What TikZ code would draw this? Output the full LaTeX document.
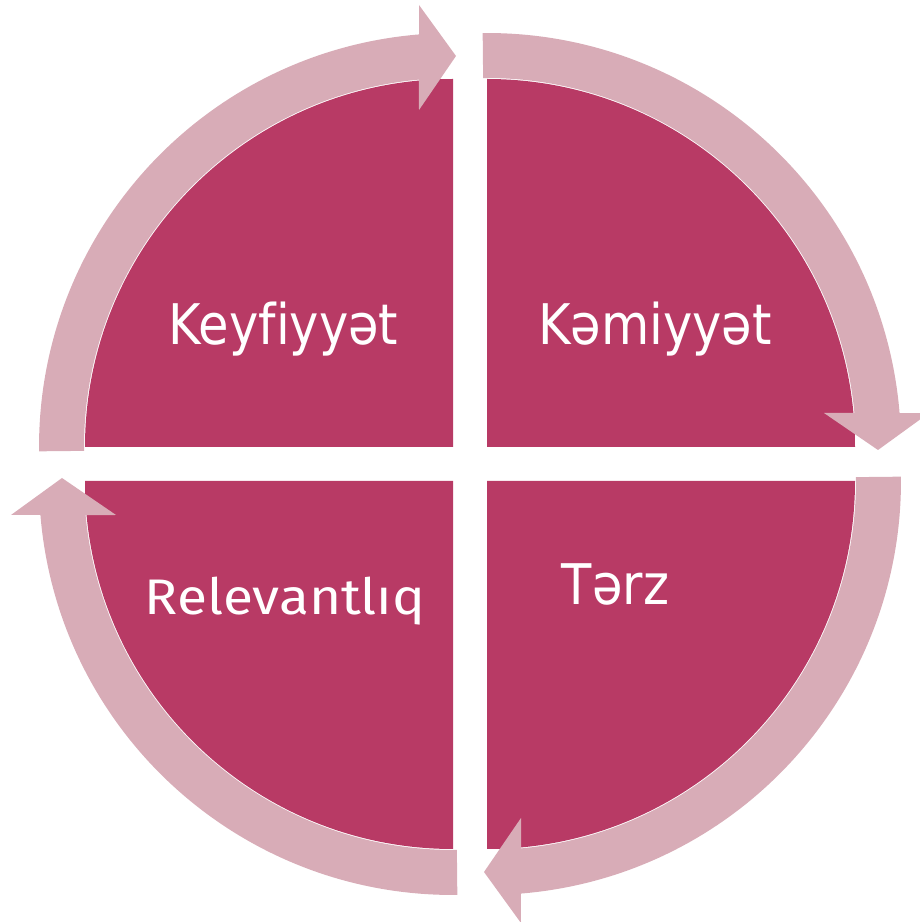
\documentclass[tikz,border=0pt]{standalone}
\usepackage{fontspec}
\setmainfont[Ligatures=NoCommon]{DejaVu Sans}
\newfontfamily\relfont{Fira Sans}
\definecolor{sectorcol}{RGB}{184,58,101}
\definecolor{ringcol}{RGB}{216,172,183}
\tikzset{
  sectorfill/.style={fill=sectorcol, draw=none},
  ringarrow/.style={fill=ringcol, draw=none},
  lbl/.style={text=white, anchor=base, inner sep=0pt, font=\fontsize{56}{60}\selectfont},
}
\newcommand{\ringpath}{%
  (180.6:414) arc[start angle=180.6, end angle=94.7, radius=414] -- (-34,442) -- (3,391) -- (-34,337) -- (95.3:369) arc[start angle=95.3, end angle=180.6, radius=369] -- cycle}
\begin{document}
\begin{tikzpicture}[x=1pt,y=1pt]
\useasboundingbox (0,0) rectangle (920,922);
% corners
\coordinate (cTL) at (453,475);
\coordinate (cTR) at (487,475);
\coordinate (cBR) at (487,441);
\coordinate (cBL) at (453,441);
% sectors
\fill[sectorfill] (cTL) -- ++(180:368) arc[start angle=180, end angle=90, radius=368] -- cycle;
\fill[sectorfill] (cTR) -- ++(90:368) arc[start angle=90, end angle=0, radius=368] -- cycle;
\fill[sectorfill] (cBR) -- ++(0:368) arc[start angle=0, end angle=-90, radius=368] -- cycle;
\fill[sectorfill] (cBL) -- ++(270:368) arc[start angle=270, end angle=180, radius=368] -- cycle;
% ring arrows
\begin{scope}[shift={(cTL)}]
  \fill[ringarrow] \ringpath;
\end{scope}
\begin{scope}[shift={(cTR)}, rotate=-90]
  \fill[ringarrow] \ringpath;
\end{scope}
\begin{scope}[shift={(cBR)}, rotate=-180]
  \fill[ringarrow] \ringpath;
\end{scope}
\begin{scope}[shift={(cBL)}, rotate=90]
  \fill[ringarrow] \ringpath;
\end{scope}
% labels
\node[lbl] (keyf) at (283.5,577) {\scalebox{0.885}[1]{Keyfiyyət}};
\node[lbl] (kemi) at (655,577) {\scalebox{0.885}[1]{Kəmiyyət}};
\node[lbl] (terz) at (615.5,317) {\scalebox{0.885}[1]{Tərz}};
\node[lbl, font=\relfont\fontsize{50}{56}\selectfont] (rel) at (285,307) {\scalebox{1.1}[1]{Relevantlıq}};
\end{tikzpicture}
\end{document}
